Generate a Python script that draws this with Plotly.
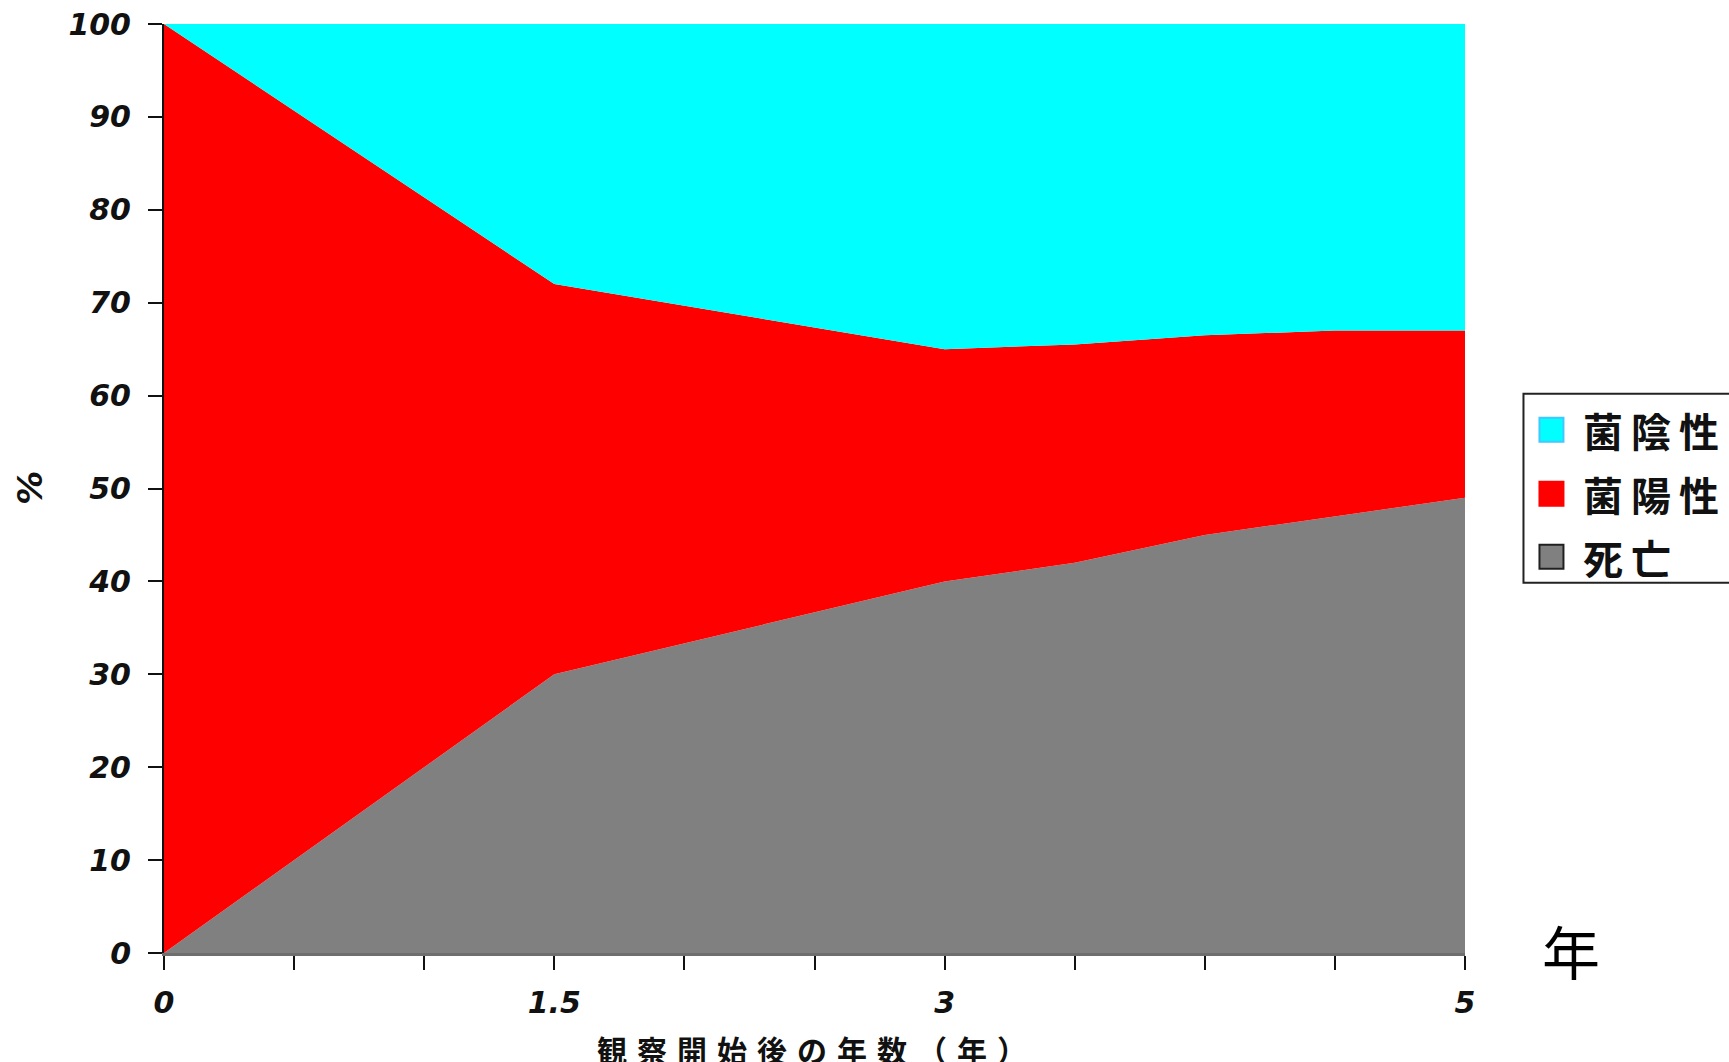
import plotly.graph_objects as go

# ---- data ----
years = [0, 1.5, 3, 3.5, 4, 4.5, 5]
death = [0, 30, 40, 42, 45, 47, 49]          # 死亡
positive = [100, 42, 25, 23.5, 21.5, 20, 18]  # 菌陽性
negative = [0, 28, 35, 34.5, 33.5, 33, 33]    # 菌陰性

names = {"death": "死亡", "pos": "菌陽性", "neg": "菌陰性"}
colors = {"death": "#808080", "pos": "#ff0000", "neg": "#00ffff"}
legend_order = ["neg", "pos", "death"]

x_tickvals = [0, 0.5, 1, 1.5, 2, 2.5, 3, 3.5, 4, 4.5, 5]
x_ticktext = ["0", "", "", "1.5", "", "", "3", "", "", "", "5"]
y_tickvals = [0, 10, 20, 30, 40, 50, 60, 70, 80, 90, 100]

x_title = "観察開始後の年数（年）"
y_title = "%"
corner_text = "年"

THIN = "\u2009"
SP = "\u2004"

fig = go.Figure()

for key, vals in (("death", death), ("pos", positive), ("neg", negative)):
    fig.add_trace(go.Scatter(
        x=years, y=vals, mode="lines", stackgroup="one",
        line=dict(width=0, color=colors[key]),
        fillcolor=colors[key], name=names[key], showlegend=False,
        hoverinfo="x+y+name",
    ))

tick_font = dict(family="DejaVu Sans, sans-serif", size=30,
                 color="#111111", weight="bold", style="italic")

L, R, T, B = 164, 263.5, 24, 108.5
W, H = 1729, 1062
pw = W - L - R
ph = H - T - B


def px_x(p):
    return (p - L) / pw


def px_y(p):
    return (H - B - p) / ph


shapes = []
annotations = []

# legend box (runs off the right edge, as in the reference)
shapes.append(dict(type="rect", xref="paper", yref="paper",
                   x0=px_x(1524), x1=px_x(1760), y0=px_y(583), y1=px_y(394),
                   line=dict(color="#222222", width=2), fillcolor="white", layer="above"))
legend_border = {"neg": "#40c8ff", "pos": "#ff0000", "death": "#202020"}
row_y = [430, 494, 557]
for key, cy in zip(legend_order, row_y):
    shapes.append(dict(type="rect", xref="paper", yref="paper",
                       x0=px_x(1540), x1=px_x(1564), y0=px_y(cy + 12), y1=px_y(cy - 12),
                       line=dict(color=legend_border[key], width=2),
                       fillcolor=colors[key], layer="above"))
    annotations.append(dict(text=THIN.join(list(names[key])), xref="paper", yref="paper",
                            x=px_x(1582), y=px_y(cy), xanchor="left", yanchor="middle",
                            showarrow=False,
                            font=dict(family="Noto Sans CJK JP", size=40,
                                      color="#111111", weight="bold")))

annotations += [
    dict(text=y_title, xref="paper", yref="paper", x=px_x(30), y=px_y(488),
         xanchor="center", yanchor="middle", showarrow=False, textangle=-90,
         font=dict(family="DejaVu Sans, sans-serif", size=34,
                   color="#111111", weight="bold", style="italic")),
    dict(text=SP.join(list(x_title)), xref="paper", yref="paper",
         x=px_x(812), y=px_y(1050), xanchor="center", yanchor="middle",
         showarrow=False,
         font=dict(family="Noto Sans CJK JP", size=30, color="#111111",
                   weight="bold")),
    dict(text=corner_text, xref="paper", yref="paper", x=px_x(1572), y=px_y(950),
         xanchor="center", yanchor="middle", showarrow=False,
         font=dict(family="Noto Sans CJK JP", size=58, color="#000000")),
]

fig.update_layout(
    width=W, height=H,
    margin=dict(l=L, r=R, t=T, b=B, pad=0, autoexpand=False),
    paper_bgcolor="white", plot_bgcolor="white",
    showlegend=False,
    xaxis=dict(
        range=[0, 5], tickmode="array", tickvals=x_tickvals, ticktext=x_ticktext,
        ticks="outside", ticklen=14, tickwidth=2, tickcolor="#111111",
        showline=True, linecolor="#6e6e6e", linewidth=3,
        showgrid=False, zeroline=False, tickfont=tick_font,
        ticklabelstandoff=7,
    ),
    yaxis=dict(
        range=[0, 100], tickmode="array", tickvals=y_tickvals,
        ticks="outside", ticklen=14, tickwidth=2, tickcolor="#111111",
        showline=True, linecolor="#111111", linewidth=2,
        showgrid=False, zeroline=False, tickfont=tick_font,
        ticklabelstandoff=11,
    ),
    shapes=shapes,
    annotations=annotations,
)

fig.write_html("out.html")
